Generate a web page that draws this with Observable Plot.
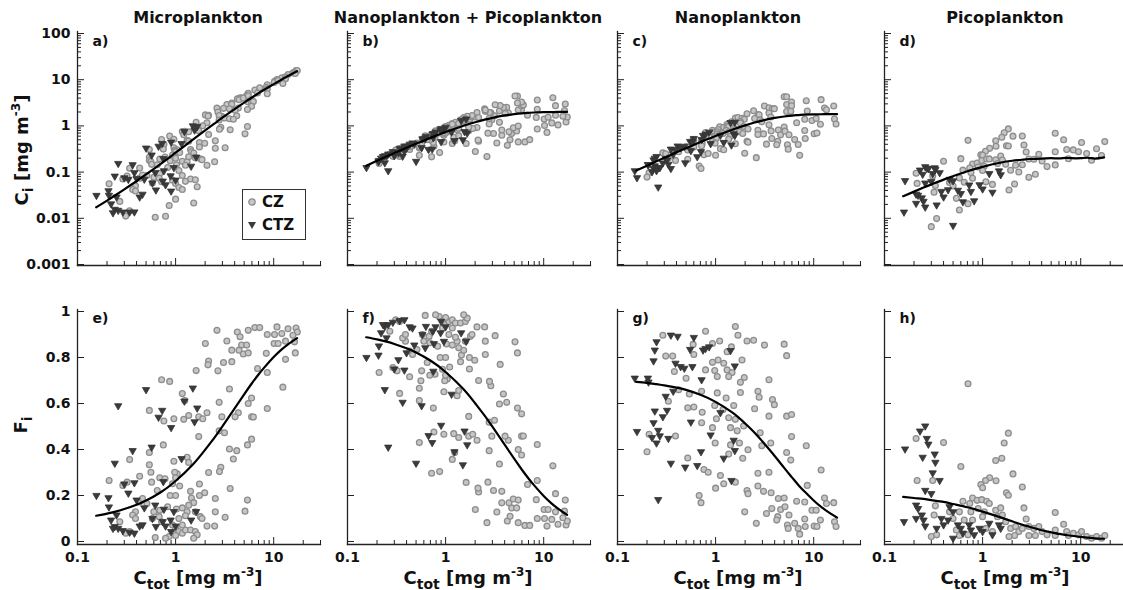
<!DOCTYPE html>
<html><head><meta charset="utf-8">
<script src="https://cdn.jsdelivr.net/npm/d3@7"></script>
<script src="https://cdn.jsdelivr.net/npm/@observablehq/plot@0.6"></script>
<style>
html,body{margin:0;padding:0;background:#fff;overflow:hidden;}
#chart{position:relative;width:1123px;height:590px;overflow:hidden;font-family:"DejaVu Sans",sans-serif;font-weight:bold;color:#111;}
.panel{position:absolute;}
.panel svg{max-width:none !important;display:block;}
.title{position:absolute;font-size:16px;transform:translate(-50%,-50%);white-space:nowrap;}
.xlab{position:absolute;font-size:18px;transform:translate(-50%,-50%);white-space:nowrap;}
.ylab{position:absolute;font-size:18px;transform:translate(-50%,-50%) rotate(-90deg);white-space:nowrap;}
sub{font-size:14px;vertical-align:-5px;}
sup{font-size:12px;vertical-align:8px;}
.legend{position:absolute;left:242px;top:189px;width:62px;height:49px;border:1.5px solid #333;background:#fff;font-size:15px;}
.legend div{display:flex;align-items:center;height:23px;margin-left:4px;}
.legend svg{margin-right:5px;}
</style>
</head><body>
<div id="chart"></div>
<script>
// ---- Data: C_tot [mg m-3] and fraction F_i ----
const microCZ = [[2.64,0.918],[4.26,0.911],[5.5,0.918],[6.43,0.93],[7.2,0.93],[8.6,0.90],[10.8,0.933],[12.1,0.904],[14.0,0.925],[16.9,0.928],[17.4,0.911],[15.7,0.897],[10.2,0.90],[2.01,0.861],[3.33,0.872],[4.54,0.89],[4.71,0.854],[5.3,0.854],[3.74,0.832],[4.43,0.832],[4.9,0.815],[5.5,0.82],[3.74,0.782],[3.08,0.778],[2.17,0.785],[2.14,0.768],[2.7,0.742],[1.62,0.743],[8.4,0.818],[10.1,0.861],[11.1,0.861],[13.2,0.871],[16.3,0.868],[16.6,0.82],[13.2,0.792],[6.84,0.752],[8.6,0.735],[12.4,0.671],[3.54,0.663],[8.6,0.578],[0.72,0.703],[0.87,0.696],[1.17,0.643],[1.24,0.613],[5.95,0.624],[5.5,0.60],[4.36,0.56],[4.04,0.542],[2.96,0.542],[2.09,0.56],[2.78,0.605],[1.21,0.531],[1.36,0.548],[1.72,0.542],[1.89,0.534],[0.76,0.524],[0.96,0.534],[0.54,0.57],[1.72,0.456],[2.78,0.481],[3.15,0.473],[5.95,0.542],[6.2,0.541],[5.95,0.445],[5.4,0.42],[4.2,0.395],[3.54,0.402],[3.88,0.359],[2.89,0.323],[2.8,0.304],[0.75,0.42],[0.54,0.387],[0.54,0.334],[0.56,0.301],[0.57,0.258],[0.34,0.356],[0.21,0.265],[0.32,0.258],[0.43,0.284],[0.96,0.349],[1.04,0.294],[1.31,0.366],[1.36,0.344],[0.98,0.301],[1.0,0.277],[1.1,0.241],[1.75,0.25],[1.75,0.20],[1.98,0.212],[2.54,0.187],[3.6,0.23],[5.4,0.18],[5.1,0.132],[3.2,0.105],[2.09,0.067],[2.5,0.067],[0.69,0.277],[0.78,0.273],[0.93,0.251],[0.65,0.222],[0.88,0.20],[1.0,0.20],[1.42,0.218],[1.45,0.189],[1.53,0.169],[1.17,0.146],[1.31,0.129],[1.02,0.141],[0.83,0.151],[0.69,0.136],[0.60,0.129],[0.43,0.172],[0.39,0.129],[0.365,0.115],[0.39,0.10],[0.51,0.165],[0.58,0.10],[0.68,0.108],[1.08,0.10],[1.26,0.112],[1.79,0.108],[1.86,0.10],[0.93,0.072],[1.0,0.057],[1.08,0.043],[1.17,0.036],[1.26,0.05],[1.42,0.05],[1.59,0.043],[1.66,0.029],[1.0,0.026],[0.86,0.022],[0.79,0.014],[0.62,0.017],[1.53,0.014],[0.31,0.036],[0.34,0.043],[0.27,0.086],[0.29,0.244],[0.46,0.187],[1.36,0.158],[1.59,0.129],[0.72,0.086],[1.17,0.072],[2.17,0.30],[2.54,0.129]];
const microCTZ = [[0.156,0.20],[0.207,0.19],[0.209,0.15],[0.26,0.59],[0.24,0.34],[0.30,0.25],[0.33,0.21],[0.365,0.395],[0.38,0.255],[0.40,0.18],[0.50,0.66],[0.57,0.41],[0.48,0.146],[0.67,0.54],[0.73,0.57],[0.75,0.26],[0.90,0.495],[1.15,0.36],[1.23,0.61],[1.50,0.667],[1.66,0.58],[1.56,0.52],[1.62,0.13],[1.44,0.093],[0.96,0.13],[0.76,0.14],[0.62,0.158],[0.22,0.093],[0.24,0.065],[0.26,0.057],[0.29,0.047],[0.34,0.04],[0.43,0.067],[0.63,0.065],[0.79,0.067],[0.89,0.093],[0.25,0.115],[0.46,0.072],[0.58,0.10],[1.0,0.067],[0.23,0.057],[0.38,0.036],[0.74,0.086],[0.90,0.043]];
const nanoCZ = [[1.59,0.935],[0.79,0.914],[0.29,0.897],[1.69,0.897],[2.09,0.872],[2.44,0.875],[3.15,0.854],[5.0,0.858],[5.3,0.808],[1.1,0.872],[0.93,0.861],[0.59,0.857],[1.45,0.846],[1.31,0.825],[0.31,0.806],[0.365,0.806],[0.60,0.813],[1.86,0.789],[1.06,0.789],[0.93,0.779],[1.21,0.775],[0.79,0.746],[0.98,0.743],[1.31,0.746],[1.47,0.735],[0.38,0.739],[0.50,0.71],[1.04,0.717],[1.36,0.717],[1.96,0.713],[3.5,0.703],[1.79,0.692],[2.7,0.653],[2.78,0.627],[3.8,0.617],[3.97,0.595],[0.42,0.66],[0.54,0.641],[0.72,0.653],[1.04,0.646],[1.28,0.624],[1.79,0.648],[0.33,0.61],[0.52,0.581],[0.60,0.585],[0.98,0.591],[1.19,0.574],[1.53,0.591],[2.5,0.577],[3.5,0.545],[5.3,0.545],[5.95,0.552],[0.73,0.562],[0.72,0.516],[1.02,0.534],[1.36,0.538],[1.59,0.531],[1.93,0.502],[0.93,0.495],[1.42,0.495],[1.66,0.481],[2.85,0.473],[5.95,0.456],[0.39,0.459],[0.21,0.466],[0.20,0.39],[0.99,0.428],[1.42,0.42],[1.75,0.428],[2.96,0.416],[3.65,0.428],[2.14,0.399],[1.89,0.362],[1.36,0.38],[5.3,0.387],[8.4,0.416],[5.84,0.354],[0.52,0.363],[0.76,0.313],[0.84,0.301],[1.12,0.287],[2.7,0.297],[3.5,0.301],[11.9,0.311],[1.0,0.232],[2.09,0.222],[2.14,0.208],[2.7,0.241],[3.08,0.218],[3.68,0.212],[4.36,0.187],[5.0,0.189],[6.7,0.175],[8.1,0.172],[8.6,0.244],[12.9,0.189],[16.0,0.169],[13.5,0.165],[0.68,0.20],[0.71,0.169],[1.98,0.129],[3.74,0.143],[4.6,0.139],[5.1,0.151],[5.6,0.115],[3.3,0.122],[4.3,0.108],[4.2,0.093],[9.6,0.136],[10.6,0.136],[11.7,0.093],[6.4,0.079],[5.4,0.072],[6.95,0.057],[5.5,0.057],[8.1,0.098],[8.2,0.065],[10.1,0.067],[10.8,0.065],[16.3,0.086],[16.9,0.065],[7.2,0.032],[2.6,0.079],[1.21,0.251],[1.59,0.258]];
const nanoCTZ = [[0.15,0.71],[0.204,0.71],[0.207,0.693],[0.25,0.868],[0.24,0.832],[0.233,0.785],[0.35,0.897],[0.41,0.892],[0.60,0.887],[0.55,0.835],[0.39,0.775],[0.44,0.76],[0.48,0.753],[0.58,0.76],[0.745,0.832],[0.79,0.839],[0.86,0.846],[0.72,0.703],[1.42,0.83],[1.57,0.763],[0.31,0.631],[0.37,0.653],[0.24,0.567],[0.32,0.57],[0.29,0.542],[0.233,0.516],[0.158,0.478],[0.225,0.452],[0.26,0.483],[0.27,0.459],[0.25,0.428],[0.33,0.448],[0.56,0.519],[0.89,0.463],[1.12,0.56],[1.53,0.44],[1.57,0.395],[0.71,0.39],[0.35,0.34],[0.49,0.323],[0.65,0.33],[1.21,0.362],[1.45,0.265],[0.26,0.182]];
const picoCZ = [[0.71,0.686],[0.21,0.448],[0.40,0.43],[1.83,0.471],[1.66,0.428],[1.57,0.362],[1.36,0.352],[0.60,0.326],[2.04,0.294],[0.215,0.265],[0.31,0.265],[1.18,0.277],[1.07,0.265],[0.96,0.248],[1.37,0.264],[1.0,0.234],[1.75,0.212],[1.83,0.201],[2.54,0.237],[0.63,0.175],[0.79,0.189],[0.88,0.179],[0.98,0.182],[1.1,0.175],[1.17,0.165],[0.74,0.165],[2.64,0.146],[2.78,0.098],[5.5,0.126],[6.7,0.075],[0.33,0.155],[0.32,0.115],[0.30,0.022],[0.34,0.029],[0.46,0.129],[0.50,0.10],[0.58,0.129],[0.76,0.129],[0.90,0.143],[1.04,0.129],[1.36,0.136],[1.53,0.146],[1.42,0.108],[1.59,0.115],[1.0,0.108],[0.79,0.093],[0.65,0.093],[0.54,0.05],[1.72,0.086],[1.93,0.057],[2.17,0.065],[2.34,0.043],[2.54,0.057],[2.96,0.065],[3.33,0.057],[3.74,0.065],[4.04,0.043],[2.96,0.026],[3.45,0.026],[4.54,0.029],[5.5,0.05],[5.5,0.026],[7.2,0.043],[7.5,0.026],[8.4,0.036],[9.5,0.029],[10.2,0.043],[11.5,0.022],[12.9,0.014],[14.5,0.022],[16.3,0.014],[17.6,0.026],[2.12,0.026],[1.86,0.022],[1.26,0.043],[1.08,0.057],[0.71,0.029],[0.58,0.026]];
const picoCTZ = [[0.162,0.402],[0.158,0.086],[0.21,0.158],[0.21,0.10],[0.26,0.502],[0.23,0.48],[0.27,0.448],[0.28,0.423],[0.245,0.366],[0.325,0.38],[0.33,0.344],[0.31,0.298],[0.365,0.265],[0.26,0.222],[0.30,0.208],[0.22,0.143],[0.24,0.115],[0.25,0.093],[0.26,0.067],[0.38,0.10],[0.40,0.072],[0.34,0.057],[0.445,0.093],[0.46,0.151],[0.50,0.014],[0.56,0.072],[0.60,0.057],[0.63,0.036],[0.73,0.072],[0.76,0.05],[0.82,0.029],[0.93,0.057],[1.0,0.043],[1.17,0.079],[1.26,0.029],[1.47,0.072],[1.53,0.057],[0.50,0.129]];

// fitted model curves (fractions), read along C_tot
const curveC     = [0.155,0.2,0.25,0.3,0.4,0.5,0.7,1,1.5,2,2.5,3,4,5,6,7,8,10,12,14,17.3];
const curveMicro = [0.112,0.121,0.131,0.141,0.160,0.178,0.213,0.263,0.335,0.399,0.453,0.501,0.579,0.640,0.688,0.726,0.756,0.802,0.834,0.857,0.884];
const curveNano  = [0.694,0.690,0.684,0.679,0.669,0.659,0.638,0.607,0.559,0.513,0.473,0.435,0.372,0.320,0.279,0.245,0.219,0.178,0.149,0.129,0.104];
const curvePico  = [0.194,0.189,0.185,0.180,0.172,0.163,0.149,0.130,0.106,0.088,0.074,0.064,0.049,0.040,0.033,0.029,0.025,0.020,0.017,0.014,0.012];

const titles = ["Microplankton","Nanoplankton + Picoplankton","Nanoplankton","Picoplankton"];
const lettersTop = ["a)","b)","c)","d)"];
const lettersBottom = ["e)","f)","g)","h)"];
const xTickLabels = [0.1,1,10];
const yLogTickLabels = [0.001,0.01,0.1,1,10,100];
const yLinTickLabels = [0,0.2,0.4,0.6,0.8,1];

// ---- helpers ----
const toRows = (pairs, flip) => pairs.map(([c,f]) => ({c, f: flip ? 1 - f : f}));
const curveRows = (vals, flip) => curveC.map((c,i) => ({c, f: flip ? 1 - vals[i] : vals[i]}));
const sets = [
  {cz: toRows(microCZ), ctz: toRows(microCTZ), curve: curveRows(curveMicro)},
  {cz: toRows(microCZ, true), ctz: toRows(microCTZ, true), curve: curveRows(curveMicro, true)},
  {cz: toRows(nanoCZ), ctz: toRows(nanoCTZ), curve: curveRows(curveNano)},
  {cz: toRows(picoCZ), ctz: toRows(picoCTZ), curve: curveRows(curvePico)}
];
const xMinor = [];
for (const d of [0.1,1,10]) for (let k=2;k<=9;k++){ const v=+(d*k).toPrecision(3); if (v<=30) xMinor.push(v); }
const yLogMinor = [];
for (const d of [0.001,0.01,0.1,1,10]) for (let k=2;k<=9;k++) yLogMinor.push(+(d*k).toPrecision(3));

const colX = [77, 347, 617, 884];
const ML = 65, MR = 10, W = ML + 243 + MR;
const chart = document.getElementById("chart");
const AX = "#222";

function makePanel(row, col) {
  const top = row === 0;
  const H = top ? 290 : 300, MT = top ? 31 : 19, MB = top ? 25 : 46;
  const fh = H - MT - MB, fw = W - ML - MR;
  const s = sets[col];
  const yv = top ? (d => d.c * d.f) : (d => d.f);
  const marks = [
    Plot.ruleX(xMinor, {x: d => d, insetTop: fh - 4, stroke: AX, strokeWidth: 1}),
    Plot.ruleX([1,10], {x: d => d, insetTop: fh - 7, stroke: AX, strokeWidth: 1}),
    top ? Plot.ruleY(yLogMinor, {y: d => d, insetRight: fw - 4, stroke: AX, strokeWidth: 1}) : null,
    Plot.ruleY(top ? yLogTickLabels : yLinTickLabels, {y: d => d, insetRight: fw - 7, stroke: AX, strokeWidth: 1}),
    Plot.dot(s.cz, {x: "c", y: yv, r: 2.9, fill: "#c6c6c6", stroke: "#8d8d8d", strokeWidth: 1.3}),
    Plot.dot(s.ctz, {x: "c", y: yv, symbol: "triangle", rotate: 180, r: 2.7, fill: "#3a3a3a", stroke: "#333", strokeWidth: 0.8}),
    Plot.line(s.curve, {x: "c", y: yv, stroke: "#000", strokeWidth: 2.2, curve: "natural"}),
    Plot.frame({anchor: "left", stroke: AX, strokeWidth: 1.3}),
    Plot.frame({anchor: "bottom", stroke: AX, strokeWidth: 1.3}),
    Plot.text([top ? lettersTop[col] : lettersBottom[col]], {text: d => d, frameAnchor: "top-left", dx: 15, dy: top ? 10 : 9, textAnchor: "start", lineAnchor: "middle", fontSize: 14, fontWeight: "bold", fill: "#111"})
  ];
  if (col === 0) marks.push(Plot.axisY({ticks: top ? yLogTickLabels : yLinTickLabels, tickSize: 0, tickPadding: 7, tickFormat: d => String(d), label: null, fontSize: 14, fontWeight: "bold"}));
  if (!top) marks.push(Plot.axisX({ticks: xTickLabels, tickSize: 0, tickPadding: 8, tickFormat: d => String(d), label: null, fontSize: 14, fontWeight: "bold"}));
  const svg = Plot.plot({
    width: W, height: H, marginLeft: ML, marginRight: MR, marginTop: MT, marginBottom: MB,
    insetTop: 2, insetBottom: top ? 1 : 3,
    x: {type: "log", domain: [0.1, 30], axis: null},
    y: top ? {type: "log", domain: [0.001, 100], axis: null} : {type: "linear", domain: [0, 1], axis: null},
    style: {fontFamily: "DejaVu Sans", fontWeight: "bold", fontSize: "14px", color: "#111", background: "transparent", overflow: "visible", maxWidth: "none"},
    marks: marks.filter(Boolean)
  });
  const wrap = document.createElement("div");
  wrap.className = "panel";
  wrap.style.left = (colX[col] - ML) + "px";
  wrap.style.top = (top ? 0 : 290) + "px";
  wrap.style.width = W + "px";
  wrap.style.height = H + "px";
  wrap.appendChild(svg);
  chart.appendChild(wrap);
}
for (let r = 0; r < 2; r++) for (let c = 0; c < 4; c++) makePanel(r, c);

// titles and axis labels
function addDiv(cls, html, x, y) {
  const d = document.createElement("div");
  d.className = cls; d.innerHTML = html;
  d.style.left = x + "px"; d.style.top = y + "px";
  chart.appendChild(d);
}
titles.forEach((t, i) => addDiv("title", t, colX[i] + 121, 17));
colX.forEach(x => addDiv("xlab", "C<sub>tot</sub> [mg m<sup>-3</sup>]", x + 121, 578));
addDiv("ylab", "C<sub>i</sub> [mg m<sup>-3</sup>]", 22, 150);
addDiv("ylab", "F<sub>i</sub>", 22, 425);

// legend
const leg = document.createElement("div");
leg.className = "legend";
leg.innerHTML =
  '<div><svg width="10" height="10"><circle cx="5" cy="5" r="3.2" fill="#c6c6c6" stroke="#8d8d8d" stroke-width="1.3"/></svg>CZ</div>' +
  '<div><svg width="10" height="10"><path d="M1,2 L9,2 L5,9 Z" fill="#3a3a3a"/></svg>CTZ</div>';
chart.appendChild(leg);
</script>
</body></html>
